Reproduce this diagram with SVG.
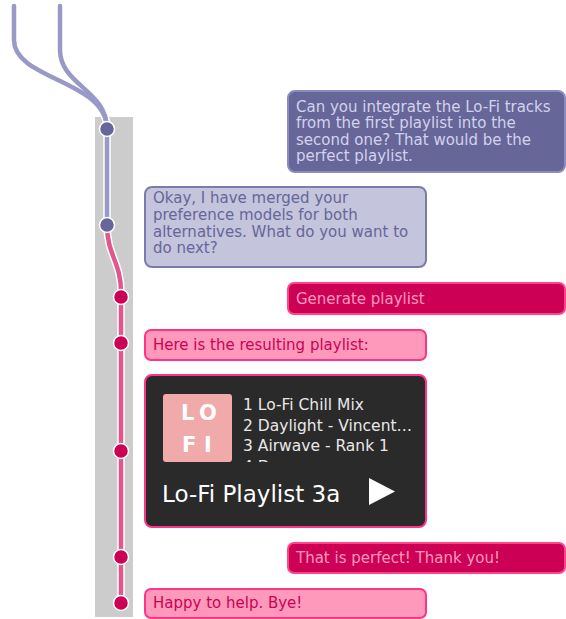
<svg xmlns="http://www.w3.org/2000/svg" width="566" height="619" viewBox="0 0 566 619">
<defs>
<style>
text{font-family:"DejaVu Sans","Liberation Sans",sans-serif;font-size:15px}
.halo{fill:none;stroke:#ffffff;stroke-width:7.5;stroke-linecap:round}
.pl{fill:none;stroke:#9999c8;stroke-width:4.5;stroke-linecap:round}
.pk{fill:none;stroke:#e2558e;stroke-width:4.5}
.np{fill:#666699;stroke:#ffffff;stroke-width:1.5}
.nk{fill:#cc0055;stroke:#ffffff;stroke-width:1.5}
.u1{fill:#666699;stroke:#8c8cbc;stroke-width:2}
.b1{fill:#c4c4dc;stroke:#7c7cac;stroke-width:2}
.u2{fill:#cc0055;stroke:#ff4488;stroke-width:2}
.b2{fill:#ff99bb;stroke:#ff3388;stroke-width:2}
.tu1{fill:#d2d2ec}
.tb1{fill:#666699}
.tu2{fill:#ff99bb}
.tb2{fill:#cc0055}
.trk{fill:#e8e8e8;font-size:15.5px}
.logo{fill:#ffffff;font-weight:bold;font-size:21px}
.title{fill:#ffffff;font-size:23px}
</style>
<clipPath id="clipList"><rect x="240" y="390" width="180" height="72"/></clipPath>
</defs>
<rect x="95" y="117" width="38" height="500" fill="#cccccc"/>
<g id="connectors">
<path class="halo" d="M14,6 V40 C14,80 107,80 107,129"/>
<path class="halo" d="M60,6 V50 C60,85 107,90 107,129"/>
<path class="pl" d="M14,6 V40 C14,80 107,80 107,129"/>
<path class="pl" d="M60,6 V50 C60,85 107,90 107,129"/>
<path class="halo" d="M107,129 V225"/>
<path class="pl" d="M107,129 V225"/>
<path class="halo" d="M107,225 C107,255 121,262 121,292 V603"/>
<path class="pk" d="M107,225 C107,255 121,262 121,292 V603"/>
</g>
<g id="nodes">
<circle class="np" cx="107" cy="129" r="7.5"/>
<circle class="np" cx="107" cy="225" r="7.5"/>
<circle class="nk" cx="121" cy="297" r="7.5"/>
<circle class="nk" cx="121" cy="343" r="7.5"/>
<circle class="nk" cx="121" cy="451" r="7.5"/>
<circle class="nk" cx="121" cy="557" r="7.5"/>
<circle class="nk" cx="121" cy="603" r="7.5"/>
</g>
<g id="msg1">
<rect class="u1" x="288" y="91" width="277" height="81" rx="7"/>
<text class="tu1" x="296" y="111.5">Can you integrate the Lo-Fi tracks</text>
<text class="tu1" x="296" y="128">from the first playlist into the</text>
<text class="tu1" x="296" y="144.5">second one? That would be the</text>
<text class="tu1" x="296" y="161">perfect playlist.</text>
</g>
<g id="msg2">
<rect class="b1" x="145" y="187" width="281" height="80" rx="7"/>
<text class="tb1" x="153" y="203">Okay, I have merged your</text>
<text class="tb1" x="153" y="220">preference models for both</text>
<text class="tb1" x="153" y="236.5">alternatives. What do you want to</text>
<text class="tb1" x="153" y="253">do next?</text>
</g>
<g id="msg3">
<rect class="u2" x="288" y="283" width="277" height="31" rx="6"/>
<text class="tu2" x="296" y="304">Generate playlist</text>
</g>
<g id="msg4">
<rect class="b2" x="145" y="330" width="281" height="30" rx="6"/>
<text class="tb2" x="153" y="350">Here is the resulting playlist:</text>
</g>
<g id="msg5">
<rect x="145" y="375" width="281" height="152" rx="7" fill="#2a2a2a" stroke="#ff3388" stroke-width="2"/>
<rect x="163" y="394" width="69" height="68" rx="3" fill="#f0aaaa"/>
<text class="logo" x="181" y="420">L</text>
<text class="logo" x="199" y="420">O</text>
<text class="logo" x="182" y="452">F</text>
<text class="logo" x="204" y="452">I</text>
<g clip-path="url(#clipList)">
<text class="trk" x="243" y="410">1 Lo-Fi Chill Mix</text>
<text class="trk" x="243" y="431">2 Daylight - Vincent…</text>
<text class="trk" x="243" y="451">3 Airwave - Rank 1</text>
<text class="trk" x="243" y="472">4 D</text>
</g>
<text class="title" x="162" y="502">Lo-Fi Playlist 3a</text>
<polygon points="369,478 395,491.5 369,505" fill="#ffffff"/>
</g>
<g id="msg6">
<rect class="u2" x="288" y="543" width="277" height="30" rx="6"/>
<text class="tu2" x="296" y="563">That is perfect! Thank you!</text>
</g>
<g id="msg7">
<rect class="b2" x="145" y="589" width="281" height="29" rx="6"/>
<text class="tb2" x="153" y="608">Happy to help. Bye!</text>
</g>
</svg>
